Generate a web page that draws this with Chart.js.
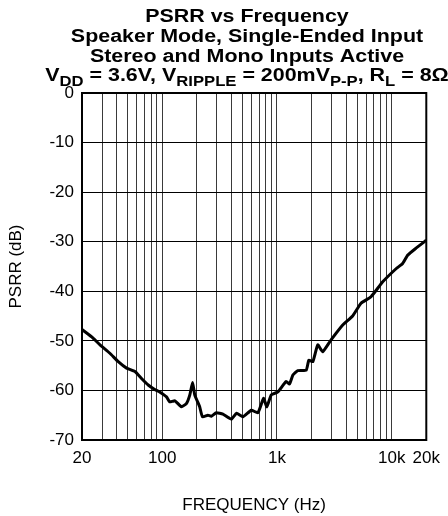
<!DOCTYPE html>
<html>
<head>
<meta charset="utf-8">
<script src="https://cdn.jsdelivr.net/npm/chart.js@4"></script>
<style>
  html, body { margin: 0; padding: 0; background: #fff; }
  #wrap { width: 448px; height: 516px; }
</style>
</head>
<body>
<div id="wrap"><canvas id="psrr" width="448" height="516"></canvas></div>
<script>
// frequency (Hz) and PSRR (dB)
const freqHz = [20, 24.3, 28.7, 35, 41.4, 48.9, 57.9, 66, 75.5, 86, 95, 109, 116, 129, 147, 163, 174, 184, 192, 212,
    224, 250, 268, 296, 338, 400, 444, 506, 598, 682, 764, 816, 892, 1018, 1202, 1286, 1376, 1520, 1798, 1896,
    2052, 2266, 2500, 2960, 3740, 4560, 5400, 6600, 8340, 10960, 12450, 13800, 16280, 20000];
const psrrDb = [-47.7, -49.2, -50.8, -52.5, -54.2, -55.5, -56.2, -57.6, -58.9, -59.8, -60.3, -61.3, -62.3, -62.1, -63.3, -62.6, -60.9, -58.4, -60.9, -63.3,
    -65.3, -65.0, -65.2, -64.5, -64.8, -65.8, -64.6, -65.3, -64.0, -64.5, -61.6, -63.3, -60.9, -60.3, -58.2, -58.7, -56.9, -56.0, -55.9, -53.9,
    -54.2, -50.8, -52.2, -49.8, -46.8, -45.0, -42.4, -41.1, -38.1, -35.4, -34.4, -32.7, -31.3, -29.7];

const xGridTicks = [20, 30, 40, 50, 60, 70, 80, 90, 100, 200, 300, 400, 500, 600, 700, 800, 900,
    1000, 2000, 3000, 4000, 5000, 6000, 7000, 8000, 9000, 10000, 20000];
const xTickLabels = { 20: '20', 100: '100', 1000: '1k', 10000: '10k', 20000: '20k' };

const titleLines = ['PSRR vs Frequency', 'Speaker Mode, Single-Ended Input', 'Stereo and Mono Inputs Active'];
const conditionParts = [
    ['V', false], ['DD', true], [' = 3.6V, V', false], ['RIPPLE', true],
    [' = 200mV', false], ['P-P', true], [', R', false], ['L', true], [' = 8Ω', false]
];

const FONT = '"Liberation Sans", Arial, sans-serif';

const titlePlugin = {
    id: 'stackedTitle',
    afterDraw(chart) {
        const ctx = chart.ctx;
        const cx = 247;
        const stretch = 1.19;
        const baselines = [22, 41.5, 61.5, 81];
        ctx.save();
        ctx.fillStyle = '#000';
        ctx.textBaseline = 'alphabetic';
        ctx.font = 'bold 18px ' + FONT;
        titleLines.forEach((line, i) => {
            ctx.save();
            ctx.translate(cx, baselines[i]);
            ctx.scale(stretch, 1);
            ctx.textAlign = 'center';
            ctx.fillText(line, 0, 0);
            ctx.restore();
        });

        // last line with subscripts
        const mainFont = 'bold 18px ' + FONT;
        const subFont = 'bold 14px ' + FONT;
        let total = 0;
        conditionParts.forEach(([txt, sub]) => {
            ctx.font = sub ? subFont : mainFont;
            total += ctx.measureText(txt).width;
        });
        ctx.save();
        ctx.translate(cx, baselines[3]);
        ctx.scale(stretch, 1);
        ctx.textAlign = 'left';
        let x = -total / 2;
        conditionParts.forEach(([txt, sub]) => {
            ctx.font = sub ? subFont : mainFont;
            ctx.fillText(txt, x, sub ? 5 : 0);
            x += ctx.measureText(txt).width;
        });
        ctx.restore();

        // plot frame
        const a = chart.chartArea;
        ctx.strokeStyle = '#000';
        ctx.lineWidth = 2;
        ctx.strokeRect(a.left, a.top, a.right - a.left, a.bottom - a.top);
        ctx.restore();
    }
};

new Chart(document.getElementById('psrr'), {
    type: 'line',
    data: {
        datasets: [{
            data: freqHz.map((f, i) => ({ x: f, y: psrrDb[i] })),
            borderColor: '#000',
            borderWidth: 3,
            pointRadius: 0,
            tension: 0.15,
            fill: false
        }]
    },
    options: {
        responsive: false,
        animation: false,
        layout: { padding: { top: 93, right: 21, bottom: 0, left: 0 } },
        plugins: {
            legend: { display: false },
            title: { display: false },
            tooltip: { enabled: false }
        },
        scales: {
            x: {
                type: 'logarithmic',
                min: 20,
                max: 20000,
                afterBuildTicks: s => { s.ticks = xGridTicks.map(v => ({ value: v })); },
                afterFit: s => { s.height = 76; },
                grid: { color: '#3a3a3a', lineWidth: 1, drawTicks: false },
                border: { color: '#000', width: 2 },
                ticks: {
                    autoSkip: false,
                    maxRotation: 0,
                    padding: 8,
                    color: '#000',
                    font: { family: FONT, size: 17 },
                    callback: v => xTickLabels[v] || ''
                },
                title: {
                    display: true,
                    text: 'FREQUENCY (Hz)',
                    color: '#000',
                    font: { family: FONT, size: 17 },
                    padding: { top: 0, bottom: 0 }
                }
            },
            y: {
                min: -70,
                max: 0,
                afterFit: s => { s.width = 82; },
                grid: { color: '#000', lineWidth: 1, drawTicks: false },
                border: { color: '#000', width: 2 },
                ticks: {
                    stepSize: 10,
                    padding: 8,
                    color: '#000',
                    font: { family: FONT, size: 17 }
                },
                title: {
                    display: true,
                    text: 'PSRR (dB)',
                    color: '#000',
                    font: { family: FONT, size: 17 },
                    padding: { top: 6, bottom: 0 }
                }
            }
        }
    },
    plugins: [titlePlugin]
});
</script>
</body>
</html>
